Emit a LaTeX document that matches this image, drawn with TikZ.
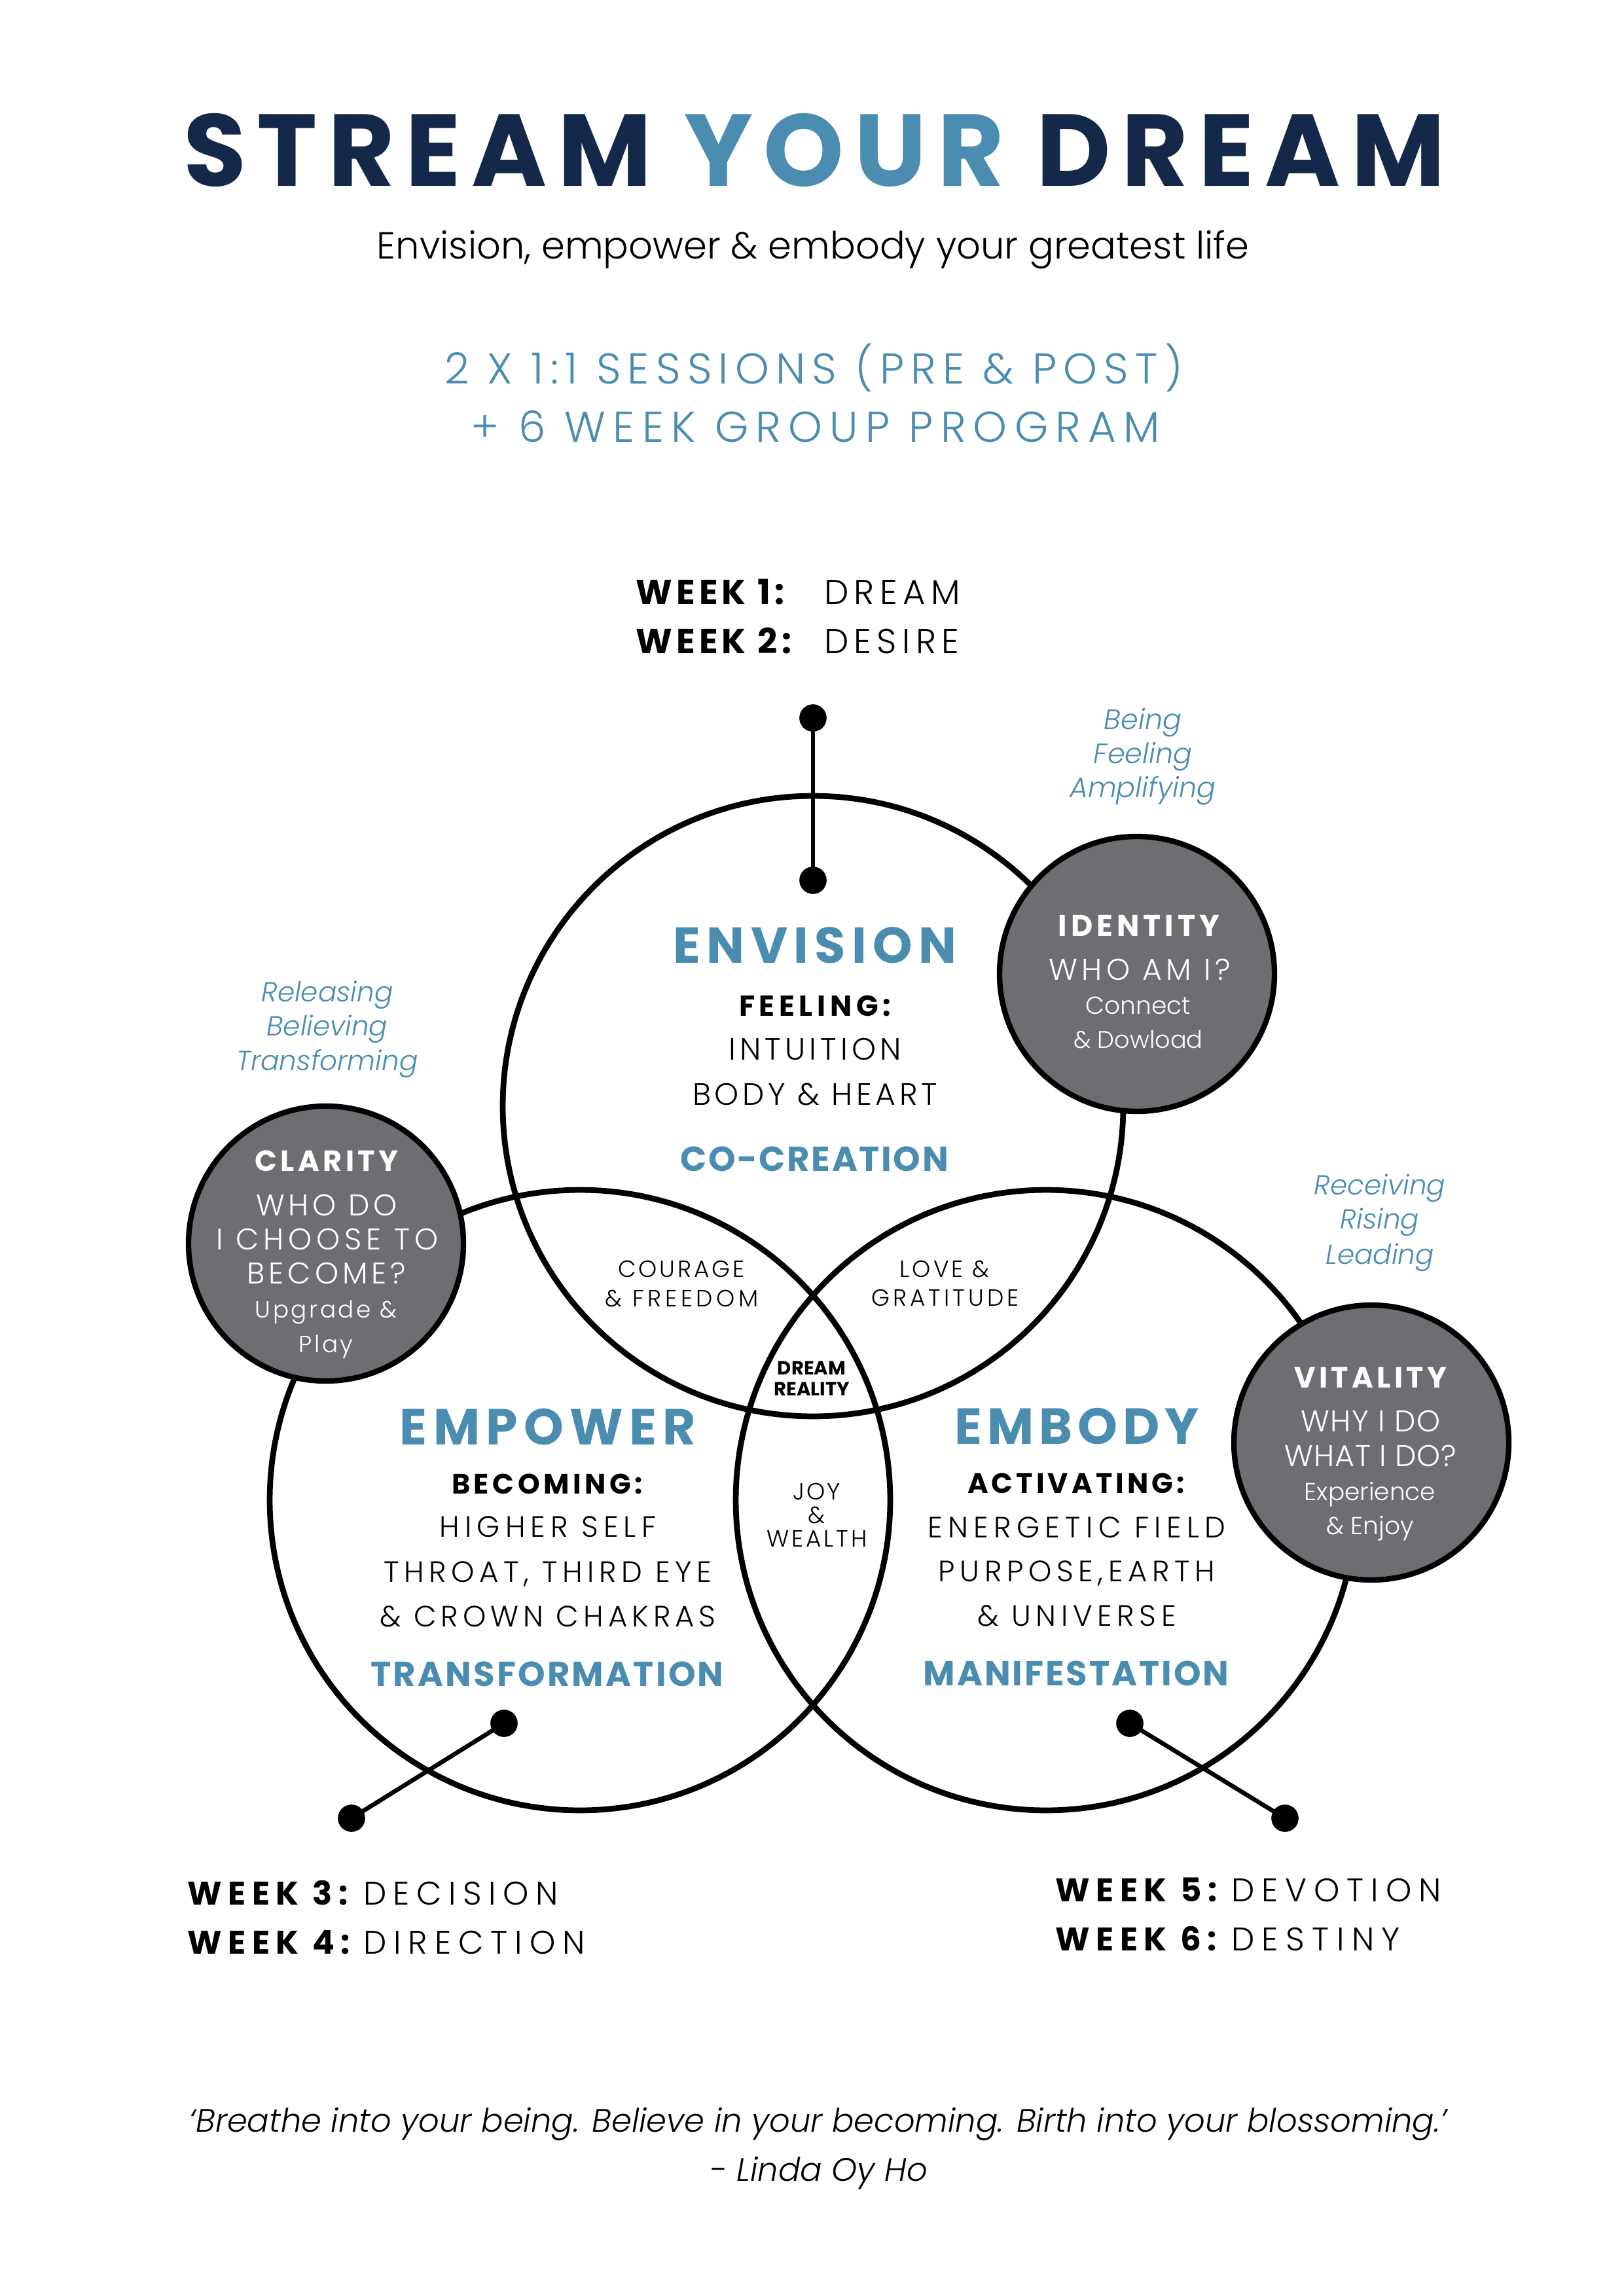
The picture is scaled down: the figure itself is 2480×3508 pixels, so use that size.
\documentclass[tikz,border=0pt]{standalone}
\usepackage{fontspec}
\setmainfont{Poppins}
\IfFontExistsTF{Poppins Light}{\newfontfamily\Lt{Poppins Light}}{\newfontfamily\Lt{Poppins}}
\IfFontExistsTF{Poppins Light Italic}{\newfontfamily\LtIt{Poppins Light Italic}}{\newcommand\LtIt{\itshape}}
\IfFontExistsTF{Poppins Bold}{\newfontfamily\Bd{Poppins Bold}}{\newcommand\Bd{\bfseries}}
\IfFontExistsTF{Poppins SemiBold}{\newfontfamily\Sb{Poppins SemiBold}}{\newcommand\Sb{\bfseries}}
\newcommand\F[3]{#1\fontsize{#2}{#2}\selectfont\addfontfeatures{LetterSpace=#3}}
\definecolor{navy}{HTML}{14294A}
\definecolor{sky}{HTML}{4A8DB0}
\definecolor{stone}{HTML}{6D6E71}
\tikzset{
  txt/.style={inner sep=0pt, outer sep=0pt, anchor=base},
  venn/.style={circle, draw=black, line width=2.1pt, minimum size=227.5pt, inner sep=0pt},
  badge/.style={circle, draw=black, fill=stone, line width=2pt, minimum size=100.8pt, inner sep=0pt},
  dot/.style={circle, fill=black, minimum size=10pt, inner sep=0pt},
  conn/.style={line width=1.6pt, black},
}
\begin{document}
\begin{tikzpicture}[x=0.24pt,y=-0.24pt]
\useasboundingbox (0,0) rectangle (2480,3508);
\fill[white] (0,0) rectangle (2480,3508);

% ---------- header ----------
\node[txt, font={\F\Bd{37.5}{10.5}}] (title) at (1244,285)
  {\textcolor{navy}{STREAM} \textcolor{sky}{YOUR} \textcolor{navy}{DREAM}};
\node[txt, font={\F\Lt{13.8}{0}}] (subtitle) at (1242,396)
  {Envision, empower \& embody your greatest life};
\node[txt, text=sky, font={\F\Lt{15.8}{15.5}}] (sess1) at (1243,587)
  {2 X 1:1 SESSIONS (PRE \& POST)};
\node[txt, text=sky, font={\F\Lt{15.8}{17}}] (sess2) at (1246,676)
  {+ 6 WEEK GROUP PROGRAM};

% ---------- week 1/2 ----------
\node[txt, anchor=base west, font={\F\Bd{12.7}{12}}] (w1) at (971,924) {WEEK 1:};
\node[txt, anchor=base west, font={\F\Lt{12.7}{16}}] (w1t) at (1259,924) {DREAM};
\node[txt, anchor=base west, font={\F\Bd{12.7}{12}}] (w2) at (971,998) {WEEK 2:};
\node[txt, anchor=base west, font={\F\Lt{12.7}{16}}] (w2t) at (1259,998) {DESIRE};

% ---------- venn circles ----------
\node[venn] (envision) at (1242,1690) {};
\node[venn] (empower) at (886,2292) {};
\node[venn] (embody) at (1598,2292) {};

% ---------- connectors ----------
\node[dot] (d1a) at (1242,1097) {};
\node[dot] (d1b) at (1242,1345) {};
\draw[conn] (d1a.center) -- (d1b.center);
\node[dot] (d3a) at (770,2633) {};
\node[dot] (d3b) at (537,2778) {};
\draw[conn] (d3a.center) -- (d3b.center);
\node[dot] (d5a) at (1726,2633) {};
\node[dot] (d5b) at (1963,2778) {};
\draw[conn] (d5a.center) -- (d5b.center);

% ---------- badges ----------
\node[badge] (identity) at (1737,1488) {};
\node[badge] (clarity) at (498,1900) {};
\node[badge] (vitality) at (2095,2204) {};

% ---------- envision text ----------
\node[txt, text=sky, font={\F\Bd{18.5}{12}}] (envT) at (1245,1471) {ENVISION};
\node[txt, font={\F\Bd{10.6}{15}}] (envA) at (1245,1552) {FEELING:};
\node[txt, font={\F\Lt{11.3}{13}}] (envB) at (1245,1619) {INTUITION};
\node[txt, font={\F\Lt{11.3}{12}}] (envC) at (1245,1688) {BODY \& HEART};
\node[txt, text=sky, font={\F\Bd{12.7}{5}}] (envD) at (1244,1789) {CO-CREATION};

% ---------- empower text ----------
\node[txt, text=sky, font={\F\Bd{18.6}{12}}] (empT) at (837,2207) {EMPOWER};
\node[txt, font={\F\Bd{10.3}{13}}] (empA) at (836,2282) {BECOMING:};
\node[txt, font={\F\Lt{10.8}{18}}] (empB) at (837,2348) {HIGHER SELF};
\node[txt, font={\F\Lt{10.8}{17}}] (empC) at (837,2417) {THROAT, THIRD EYE};
\node[txt, font={\F\Lt{10.8}{15.6}}] (empD) at (837,2485) {\& CROWN CHAKRAS};
\node[txt, text=sky, font={\F\Bd{12.7}{6}}] (empE) at (836,2576) {TRANSFORMATION};

% ---------- embody text ----------
\node[txt, text=sky, font={\F\Bd{18.6}{10}}] (embT) at (1645,2206) {EMBODY};
\node[txt, font={\F\Bd{10.3}{12}}] (embA) at (1644,2281) {ACTIVATING:};
\node[txt, font={\F\Lt{10.8}{18.5}}] (embB) at (1645,2349) {ENERGETIC FIELD};
\node[txt, font={\F\Lt{10.8}{17}}] (embC) at (1645,2416) {PURPOSE,EARTH};
\node[txt, font={\F\Lt{10.8}{17}}] (embD) at (1645,2484) {\& UNIVERSE};
\node[txt, text=sky, font={\F\Bd{12.7}{5.5}}] (embE) at (1644,2575) {MANIFESTATION};

% ---------- intersections ----------
\node[txt, font={\F\Lt{8.6}{11}}] (cf1) at (1041,1951) {COURAGE};
\node[txt, font={\F\Lt{8.6}{16}}] (cf2) at (1042,1996) {\& FREEDOM};
\node[txt, font={\F\Lt{8.6}{11}}] (lg1) at (1443,1951) {LOVE \&};
\node[txt, font={\F\Lt{8.6}{14}}] (lg2) at (1444,1995) {GRATITUDE};
\node[txt, font={\F\Bd{7}{0}}] (dr1) at (1240,2100) {DREAM};
\node[txt, font={\F\Bd{7}{0}}] (dr2) at (1240,2132) {REALITY};
\node[txt, font={\F\Lt{8.6}{8}}] (jw1) at (1248,2291) {JOY};
\node[txt, font={\F\Lt{8.6}{0}}] (jw2) at (1247,2327) {\&};
\node[txt, font={\F\Lt{8.6}{11}}] (jw3) at (1248,2363) {WEALTH};

% ---------- identity badge text ----------
\node[txt, text=white, font={\F\Bd{11}{13}}] (idA) at (1740,1430) {IDENTITY};
\node[txt, text=white, font={\F\Lt{11}{14}}] (idB) at (1741,1497) {WHO AM I?};
\node[txt, text=white, font={\F\Lt{9}{0}}] (idC) at (1739,1549) {Connect};
\node[txt, text=white, font={\F\Lt{8.8}{0}}] (idD) at (1739,1601) {\& Dowload};

% ---------- clarity badge text ----------
\node[txt, text=white, font={\F\Bd{10.7}{12}}] (clA) at (499,1789) {CLARITY};
\node[txt, text=white, font={\F\Lt{11}{13}}] (clB) at (499,1857) {WHO DO};
\node[txt, text=white, font={\F\Lt{11}{15}}] (clC) at (500,1909) {I CHOOSE TO};
\node[txt, text=white, font={\F\Lt{11}{13}}] (clD) at (499,1961) {BECOME?};
\node[txt, text=white, font={\F\Lt{8.6}{10}}] (clE) at (498,2013) {Upgrade \&};
\node[txt, text=white, font={\F\Lt{8.6}{10}}] (clF) at (498,2066) {Play};

% ---------- vitality badge text ----------
\node[txt, text=white, font={\F\Bd{10.7}{12}}] (viA) at (2094,2120) {VITALITY};
\node[txt, text=white, font={\F\Lt{11}{4}}] (viB) at (2094,2187) {WHY I DO};
\node[txt, text=white, font={\F\Lt{11}{2}}] (viC) at (2094,2240) {WHAT I DO?};
\node[txt, text=white, font={\F\Lt{9}{0}}] (viD) at (2093,2292) {Experience};
\node[txt, text=white, font={\F\Lt{9}{0}}] (viE) at (2093,2344) {\& Enjoy};

% ---------- italic side words ----------
\node[txt, text=sky, font={\F\LtIt{10.3}{0}}] (bA) at (1746,1114) {Being};
\node[txt, text=sky, font={\F\LtIt{10.3}{0}}] (bB) at (1746,1166) {Feeling};
\node[txt, text=sky, font={\F\LtIt{10.3}{0}}] (bC) at (1746,1218) {Amplifying};
\node[txt, text=sky, font={\F\LtIt{10.1}{0}}] (rA) at (500,1530) {Releasing};
\node[txt, text=sky, font={\F\LtIt{10.1}{0}}] (rB) at (500,1582) {Believing};
\node[txt, text=sky, font={\F\LtIt{10.1}{0}}] (rC) at (500,1635) {Transforming};
\node[txt, text=sky, font={\F\LtIt{10.1}{0}}] (vA) at (2108,1825) {Receiving};
\node[txt, text=sky, font={\F\LtIt{10.1}{0}}] (vB) at (2108,1877) {Rising};
\node[txt, text=sky, font={\F\LtIt{10.1}{0}}] (vC) at (2108,1931) {Leading};

% ---------- weeks 3-6 ----------
\node[txt, anchor=base west, font={\F\Bd{12}{19.5}}] (w3) at (286,2910) {WEEK 3:};
\node[txt, anchor=base west, font={\F\Lt{12}{21}}] (w3t) at (555,2910) {DECISION};
\node[txt, anchor=base west, font={\F\Bd{12}{19.5}}] (w4) at (286,2985) {WEEK 4:};
\node[txt, anchor=base west, font={\F\Lt{12}{22}}] (w4t) at (555,2985) {DIRECTION};
\node[txt, anchor=base west, font={\F\Bd{12}{19.5}}] (w5) at (1612,2905) {WEEK 5:};
\node[txt, anchor=base west, font={\F\Lt{12}{22}}] (w5t) at (1881,2905) {DEVOTION};
\node[txt, anchor=base west, font={\F\Bd{12}{19.5}}] (w6) at (1612,2980) {WEEK 6:};
\node[txt, anchor=base west, font={\F\Lt{12}{23}}] (w6t) at (1881,2980) {DESTINY};

% ---------- quote ----------
\node[txt, font={\F\LtIt{11.9}{0}}] (quote) at (1250,3257)
  {‘Breathe into your being. Believe in your becoming. Birth into your blossoming.’};
\node[txt, font={\F\LtIt{11.9}{0}}] (author) at (1251,3332) {- Linda Oy Ho};
\end{tikzpicture}
\end{document}
